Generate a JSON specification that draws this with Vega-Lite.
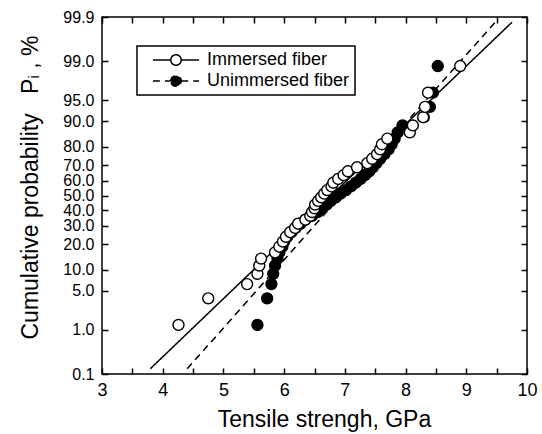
{
  "$schema": "https://vega.github.io/schema/vega-lite/v6.json",
  "autosize": {"type": "none"},
  "width": 425,
  "height": 357,
  "padding": {"left": 102, "top": 17, "right": 15, "bottom": 60},
  "background": "white",
  "config": {
    "font": "Liberation Sans",
    "view": {"stroke": "black", "strokeWidth": 1.5},
    "axis": {"grid": false, "domain": false, "tickColor": "black", "tickWidth": 1.5, "tickSize": -6, "labelColor": "black", "titleColor": "black", "labelFont": "Liberation Sans", "titleFont": "Liberation Sans", "titleFontWeight": "normal"},
    "legend": {
      "orient": "none", "legendX": 35, "legendY": 29,
      "title": null,
      "strokeColor": "black", "strokeWidth": 1.5, "fillColor": "white",
      "padding": 5, "symbolOffset": 25,
      "symbolType": "M-4.4,0H-1M1,0H4.4M-1,0A1,1,0,1,1,1,0A1,1,0,1,1,-1,0Z",
      "symbolSize": 110, "symbolStrokeColor": "black", "symbolStrokeWidth": 1.5,
      "labelFont": "Liberation Sans", "labelFontSize": 18, "labelColor": "black", "labelOffset": 22,
      "rowPadding": 3
    }
  },
  "datasets": {
    "points": [
      {"series": "Unimmersed fiber", "strength": 5.56, "P": 1.25},
      {"series": "Unimmersed fiber", "strength": 5.72, "P": 3.75},
      {"series": "Unimmersed fiber", "strength": 5.79, "P": 6.25},
      {"series": "Unimmersed fiber", "strength": 5.82, "P": 8.75},
      {"series": "Unimmersed fiber", "strength": 5.85, "P": 11.25},
      {"series": "Unimmersed fiber", "strength": 5.89, "P": 13.75},
      {"series": "Unimmersed fiber", "strength": 5.92, "P": 16.25},
      {"series": "Unimmersed fiber", "strength": 5.97, "P": 18.75},
      {"series": "Unimmersed fiber", "strength": 6.00, "P": 21.25},
      {"series": "Unimmersed fiber", "strength": 6.05, "P": 23.75},
      {"series": "Unimmersed fiber", "strength": 6.12, "P": 26.25},
      {"series": "Unimmersed fiber", "strength": 6.19, "P": 28.75},
      {"series": "Unimmersed fiber", "strength": 6.27, "P": 31.25},
      {"series": "Unimmersed fiber", "strength": 6.35, "P": 33.75},
      {"series": "Unimmersed fiber", "strength": 6.46, "P": 36.25},
      {"series": "Unimmersed fiber", "strength": 6.55, "P": 38.75},
      {"series": "Unimmersed fiber", "strength": 6.62, "P": 41.25},
      {"series": "Unimmersed fiber", "strength": 6.70, "P": 43.75},
      {"series": "Unimmersed fiber", "strength": 6.77, "P": 46.25},
      {"series": "Unimmersed fiber", "strength": 6.85, "P": 48.75},
      {"series": "Unimmersed fiber", "strength": 6.93, "P": 51.25},
      {"series": "Unimmersed fiber", "strength": 7.02, "P": 53.75},
      {"series": "Unimmersed fiber", "strength": 7.10, "P": 56.25},
      {"series": "Unimmersed fiber", "strength": 7.18, "P": 58.75},
      {"series": "Unimmersed fiber", "strength": 7.26, "P": 61.25},
      {"series": "Unimmersed fiber", "strength": 7.33, "P": 63.75},
      {"series": "Unimmersed fiber", "strength": 7.40, "P": 66.25},
      {"series": "Unimmersed fiber", "strength": 7.46, "P": 68.75},
      {"series": "Unimmersed fiber", "strength": 7.52, "P": 71.25},
      {"series": "Unimmersed fiber", "strength": 7.58, "P": 73.75},
      {"series": "Unimmersed fiber", "strength": 7.65, "P": 76.25},
      {"series": "Unimmersed fiber", "strength": 7.72, "P": 78.75},
      {"series": "Unimmersed fiber", "strength": 7.77, "P": 81.25},
      {"series": "Unimmersed fiber", "strength": 7.82, "P": 83.75},
      {"series": "Unimmersed fiber", "strength": 7.87, "P": 86.25},
      {"series": "Unimmersed fiber", "strength": 7.95, "P": 88.75},
      {"series": "Unimmersed fiber", "strength": 8.30, "P": 91.25},
      {"series": "Unimmersed fiber", "strength": 8.40, "P": 93.75},
      {"series": "Unimmersed fiber", "strength": 8.45, "P": 96.25},
      {"series": "Unimmersed fiber", "strength": 8.53, "P": 98.75},
      {"series": "Immersed fiber", "strength": 4.26, "P": 1.25},
      {"series": "Immersed fiber", "strength": 4.75, "P": 3.75},
      {"series": "Immersed fiber", "strength": 5.39, "P": 6.25},
      {"series": "Immersed fiber", "strength": 5.56, "P": 8.75},
      {"series": "Immersed fiber", "strength": 5.59, "P": 11.25},
      {"series": "Immersed fiber", "strength": 5.62, "P": 13.75},
      {"series": "Immersed fiber", "strength": 5.85, "P": 16.25},
      {"series": "Immersed fiber", "strength": 5.92, "P": 18.75},
      {"series": "Immersed fiber", "strength": 5.98, "P": 21.25},
      {"series": "Immersed fiber", "strength": 6.03, "P": 23.75},
      {"series": "Immersed fiber", "strength": 6.10, "P": 26.25},
      {"series": "Immersed fiber", "strength": 6.18, "P": 28.75},
      {"series": "Immersed fiber", "strength": 6.23, "P": 31.25},
      {"series": "Immersed fiber", "strength": 6.35, "P": 33.75},
      {"series": "Immersed fiber", "strength": 6.43, "P": 36.25},
      {"series": "Immersed fiber", "strength": 6.46, "P": 38.75},
      {"series": "Immersed fiber", "strength": 6.50, "P": 41.25},
      {"series": "Immersed fiber", "strength": 6.51, "P": 43.75},
      {"series": "Immersed fiber", "strength": 6.56, "P": 46.25},
      {"series": "Immersed fiber", "strength": 6.61, "P": 48.75},
      {"series": "Immersed fiber", "strength": 6.66, "P": 51.25},
      {"series": "Immersed fiber", "strength": 6.71, "P": 53.75},
      {"series": "Immersed fiber", "strength": 6.78, "P": 56.25},
      {"series": "Immersed fiber", "strength": 6.81, "P": 58.75},
      {"series": "Immersed fiber", "strength": 6.89, "P": 61.25},
      {"series": "Immersed fiber", "strength": 6.98, "P": 63.75},
      {"series": "Immersed fiber", "strength": 7.05, "P": 66.25},
      {"series": "Immersed fiber", "strength": 7.20, "P": 68.75},
      {"series": "Immersed fiber", "strength": 7.37, "P": 71.25},
      {"series": "Immersed fiber", "strength": 7.45, "P": 73.75},
      {"series": "Immersed fiber", "strength": 7.53, "P": 76.25},
      {"series": "Immersed fiber", "strength": 7.58, "P": 78.75},
      {"series": "Immersed fiber", "strength": 7.61, "P": 81.25},
      {"series": "Immersed fiber", "strength": 7.70, "P": 83.75},
      {"series": "Immersed fiber", "strength": 8.07, "P": 86.25},
      {"series": "Immersed fiber", "strength": 8.12, "P": 88.75},
      {"series": "Immersed fiber", "strength": 8.29, "P": 91.25},
      {"series": "Immersed fiber", "strength": 8.32, "P": 93.75},
      {"series": "Immersed fiber", "strength": 8.37, "P": 96.25},
      {"series": "Immersed fiber", "strength": 8.90, "P": 98.75}
    ],
    "fits": [
      {"series": "Immersed fiber", "strength": 3.795, "P": 0.135},
      {"series": "Immersed fiber", "strength": 9.753, "P": 99.865},
      {"series": "Unimmersed fiber", "strength": 4.403, "P": 0.135},
      {"series": "Unimmersed fiber", "strength": 9.476, "P": 99.865}
    ]
  },
  "resolve": {"axis": {"x": "independent", "y": "independent"}},
  "layer": [
    {
      "data": {"name": "fits"},
      "transform": [{"calculate": "quantileNormal(datum.P / 100)", "as": "z"}],
      "mark": {"type": "line", "color": "black", "strokeWidth": 1.5, "clip": true},
      "encoding": {
        "x": {"field": "strength", "type": "quantitative",
              "scale": {"domain": [3, 10], "nice": false, "zero": false},
              "axis": {"orient": "bottom", "title": "Tensile strengh, GPa",
                       "values": [3, 3.5, 4, 4.5, 5, 5.5, 6, 6.5, 7, 7.5, 8, 8.5, 9, 9.5, 10],
                       "labelExpr": "datum.value % 1 == 0 ? format(datum.value, 'd') : ''",
                       "labelFontSize": 18, "labelPadding": 13, "titleFontSize": 23, "titlePadding": 9, "titleX": 222, "labelFlush": false}},
        "y": {"field": "z", "type": "quantitative",
              "scale": {"domain": [-3.090232, 3.090232], "nice": false, "zero": false},
              "axis": {"orient": "left", "title": "Cumulative probability\u00a0\u00a0\u00a0Pᵢ\u00a0,\u00a0%",
                       "values": [-3.090232, -2.326348, -1.644854, -1.281552, -0.841621, -0.524401, -0.253347, 0, 0.253347, 0.524401, 0.841621, 1.281552, 1.644854, 2.326348, 3.090232],
                       "labelExpr": "format(cumulativeNormal(datum.value) * 100, '.1f')",
                       "labelFontSize": 16, "labelPadding": 14, "titleFontSize": 23, "titlePadding": 20, "titleY": 170, "labelOverlap": false}},
        "strokeDash": {"field": "series", "type": "nominal",
                       "scale": {"domain": ["Immersed fiber", "Unimmersed fiber"], "range": [[1, 0], [7, 5]]}},
        "order": {"field": "strength", "type": "quantitative"}
      }
    },
    {
      "data": {"name": "points"},
      "transform": [{"calculate": "quantileNormal(datum.P / 100)", "as": "z"}],
      "mark": {"type": "point", "shape": "circle", "filled": true, "size": 120, "stroke": "black", "strokeWidth": 1.4, "opacity": 1},
      "encoding": {
        "x": {"field": "strength", "type": "quantitative", "axis": null},
        "y": {"field": "z", "type": "quantitative", "axis": null},
        "fill": {"field": "series", "type": "nominal",
                 "scale": {"domain": ["Immersed fiber", "Unimmersed fiber"], "range": ["white", "black"]}}
      }
    },
    {
      "data": {"name": "fits"},
      "transform": [{"calculate": "quantileNormal(datum.P / 100)", "as": "z"}],
      "mark": {"type": "point", "opacity": 0},
      "encoding": {
        "x": {"field": "strength", "type": "quantitative",
              "axis": {"orient": "top", "title": null, "labels": false,
                       "values": [3, 3.5, 4, 4.5, 5, 5.5, 6, 6.5, 7, 7.5, 8, 8.5, 9, 9.5, 10]}},
        "y": {"field": "z", "type": "quantitative",
              "axis": {"orient": "right", "title": null, "labels": false,
                       "values": [-3.090232, -2.326348, -1.644854, -1.281552, -0.841621, -0.524401, -0.253347, 0, 0.253347, 0.524401, 0.841621, 1.281552, 1.644854, 2.326348, 3.090232]}}
      }
    }
  ]
}
